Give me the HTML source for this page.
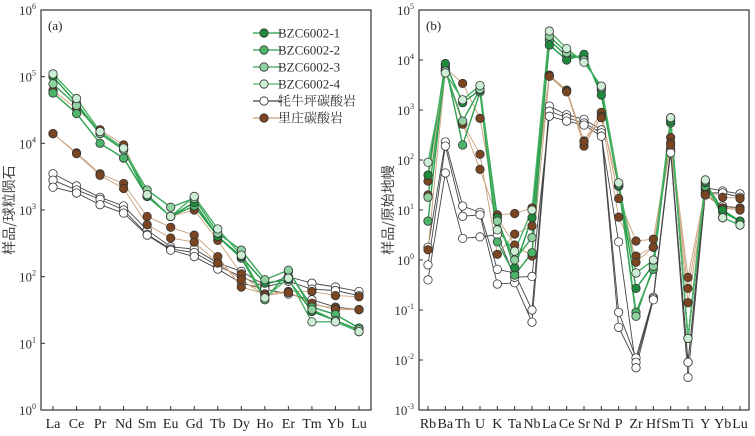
<!DOCTYPE html>
<html><head><meta charset="utf-8"><style>
body{margin:0;background:#fff}
svg{display:block;font-family:"Liberation Serif","Noto Serif CJK SC",serif}
</style></head><body>
<svg id="chart" width="755" height="436" viewBox="0 0 755 436" xmlns="http://www.w3.org/2000/svg"></svg>
<script>
const catsA=["La","Ce","Pr","Nd","Sm","Eu","Gd","Tb","Dy","Ho","Er","Tm","Yb","Lu"];
const catsB=["Rb","Ba","Th","U","K","Ta","Nb","La","Ce","Sr","Nd","P","Zr","Hf","Sm","Ti","Y","Yb","Lu"];
const seriesNames=["BZC6002-1","BZC6002-2","BZC6002-3","BZC6002-4","牦牛坪碳酸岩","里庄碳酸岩"];
// panel a (chondrite normalised REE)
const aG1=[100000,40000,14000,8000,1600,800,1300,400,200,80,90,30,22,15];
const aG2=[57000,28000,10000,6000,1600,800,1150,400,190,45,120,35,27,17];
const aG3=[78000,37000,14000,8000,2000,1100,1500,450,250,90,125,32,22,16];
const aG4=[110000,47000,15000,8500,1700,800,1600,520,210,48,95,21,21,15];
const aW1=[3500,2300,1550,1150,500,280,260,160,120,75,100,80,70,60];
const aW2=[2800,2000,1450,1000,430,260,230,145,100,70,85,65,62,52];
const aW3=[2200,1800,1200,900,420,250,200,130,80,65,55,45,35,32];
const aB1=[62000,33000,16000,9500,1600,800,1000,350,110,55,60,60,52,50];
const aB2=[14000,7200,3500,2500,800,550,420,200,70,55,60,38,34,32];
const aB3=[14000,7000,3300,2100,600,380,330,160,90,52,58,40,32,32];
// panel b (primitive mantle normalised)
const bG1=[50,8500,1400,2500,7,0.7,7,20000,10000,13000,2000,30,0.27,0.8,600,0.027,35,10,6];
const bG2=[6,8000,200,2300,2.3,0.5,1.4,25000,12000,11000,2500,30,0.09,0.65,550,0.027,30,9,6];
const bG3=[18,6000,600,2600,6,1.0,2.8,30000,14000,10000,2800,33,0.075,0.75,700,0.027,38,7,5];
const bG4=[90,5500,1600,3100,4,1.5,10,38000,17000,9000,3000,35,0.55,1.0,700,0.027,40,7,5];
const bW1=[1.8,230,12,9,0.65,0.55,0.1,1200,800,650,400,0.09,0.011,0.18,170,0.009,28,24,21];
const bW2=[0.8,190,7.5,8,0.33,0.35,0.057,950,700,550,350,0.045,0.009,0.17,150,0.0045,22,22,18];
const bW3=[0.4,55,2.7,2.9,3.2,0.45,0.47,750,600,500,300,2.3,0.007,0.16,140,0.009,20,12,11];
const bB1=[38,7000,3400,680,8,8.5,11,5000,2500,240,900,17,2.4,2.6,280,0.45,25,18,17];
const bB2=[20,6500,550,130,1.3,3.3,4.8,4800,2400,190,750,7.2,1.2,1.8,220,0.27,22,11,11];
const bB3=[1.6,6000,520,65,7,2.0,1.2,4700,2300,230,700,30,0.9,1.8,200,0.14,20,11,10];
const expA=[0,1,2,3,4,5,6];
const expB=[-3,-2,-1,0,1,2,3,4,5];

const NS="http://www.w3.org/2000/svg";
const svg=document.getElementById('chart');
function mk(t,a,p){const e=document.createElementNS(NS,t);for(const k in a)e.setAttribute(k,a[k]);(p||svg).appendChild(e);return e;}
const styles={g1:["#1e8a3c","#1f9a44"],g2:["#4cb56a","#2e9f4e"],g3:["#8fd1a0","#3aa558"],g4:["#cdeed5","#4ab365"],w:["#ffffff","#444"],b:["#7a4520","#c9a07a"]};

function panel(key,x0,x1,y0,y1,emin,emax,cats,exps,series,label,pad){
  const g=mk('g',{});
  
  
  const xs=i=>x0+pad+i*(x1-x0-2*pad)/(cats.length-1);
  const ys=v=>y1-(Math.log10(v)-emin)*(y1-y0)/(emax-emin);
  const frame=mk('rect',{x:x0,y:y0,width:x1-x0,height:y1-y0,fill:'none',stroke:'#333','stroke-width':1.2},g);
  
  
  exps.forEach(e=>{
    const y=ys(Math.pow(10,e));
    mk('line',{x1:x0,y1:y,x2:x0+4,y2:y,stroke:'#333'},g);
    const t=mk('text',{x:x0-5,y:y+5,'text-anchor':'end','font-size':13,fill:'#333'},g);
    
    
    t.textContent='10';
    const s=mk('tspan',{dy:-6,'font-size':8},t);s.textContent=String(e);
  });
  cats.forEach((c,i)=>{
    const x=xs(i);
    mk('line',{x1:x,y1:y1,x2:x,y2:y1-4,stroke:'#333'},g);
    const t=mk('text',{x:x,y:y1+18,'text-anchor':'middle','font-size':14,fill:'#222'},g);
    
    
    t.textContent=c;
  });
  const lb=mk('text',{x:x0+7,y:y0+20,'font-size':13,fill:'#222'},g);
  
  
  lb.textContent=label;
  series.forEach(([vals,st])=>{
    const [fill,line]=styles[st];
    const pl=mk('polyline',{points:vals.map((v,i)=>xs(i)+','+ys(v)).join(' '),fill:'none',stroke:line,'stroke-width':st[0]==='g'?1.4:0.9},g);
    
    
  });
  series.forEach(([vals,st])=>{
    const [fill]=styles[st];
    vals.forEach((v,i)=>{
      const c=mk('circle',{cx:xs(i),cy:ys(v),r:4.2,fill:fill,stroke:'#333','stroke-width':0.8},g);
      
      
    });
  });
}
panel('a',41,371,10,410,0,6,catsA,expA,[[aW1,'w'],[aW2,'w'],[aW3,'w'],[aB1,'b'],[aB2,'b'],[aB3,'b'],[aG2,'g2'],[aG1,'g1'],[aG3,'g3'],[aG4,'g4']],'(a)',12);
panel('b',419,749,10,410,-3,5,catsB,expB,[[bW1,'w'],[bW2,'w'],[bW3,'w'],[bB1,'b'],[bB2,'b'],[bB3,'b'],[bG2,'g2'],[bG1,'g1'],[bG3,'g3'],[bG4,'g4']],'(b)',9);

// y titles
[[14,'样品/球粒陨石','y-axis-title-a'],[393,'样品/原始地幔','y-axis-title-b']].forEach(([x,s,n])=>{
  const t=mk('text',{x:x,y:210,'text-anchor':'middle','font-size':14,fill:'#444',transform:`rotate(-90 ${x} 210)`,'font-family':'"Noto Sans CJK SC",sans-serif'});
  
  
  t.textContent=s;
});
// legend
const legKeys=['g1','g2','g3','g4','w','b'];
const lg=mk('g',{});


seriesNames.forEach((n,i)=>{
  const y=33+i*17;const [fill,line]=styles[legKeys[i]];
  const e=mk('g',{},lg);
  
  
  mk('line',{x1:253,y1:y,x2:282,y2:y,stroke:line,'stroke-width':1.3},e);
  mk('circle',{cx:264,cy:y,r:4.2,fill:fill,stroke:'#333','stroke-width':0.8},e);
  const t=mk('text',{x:278,y:y+4.5,'font-size':13,fill:'#333','font-family':'"Liberation Serif","Noto Serif CJK SC",serif'},e);
  t.textContent=n;
});
</script>
</body></html>
